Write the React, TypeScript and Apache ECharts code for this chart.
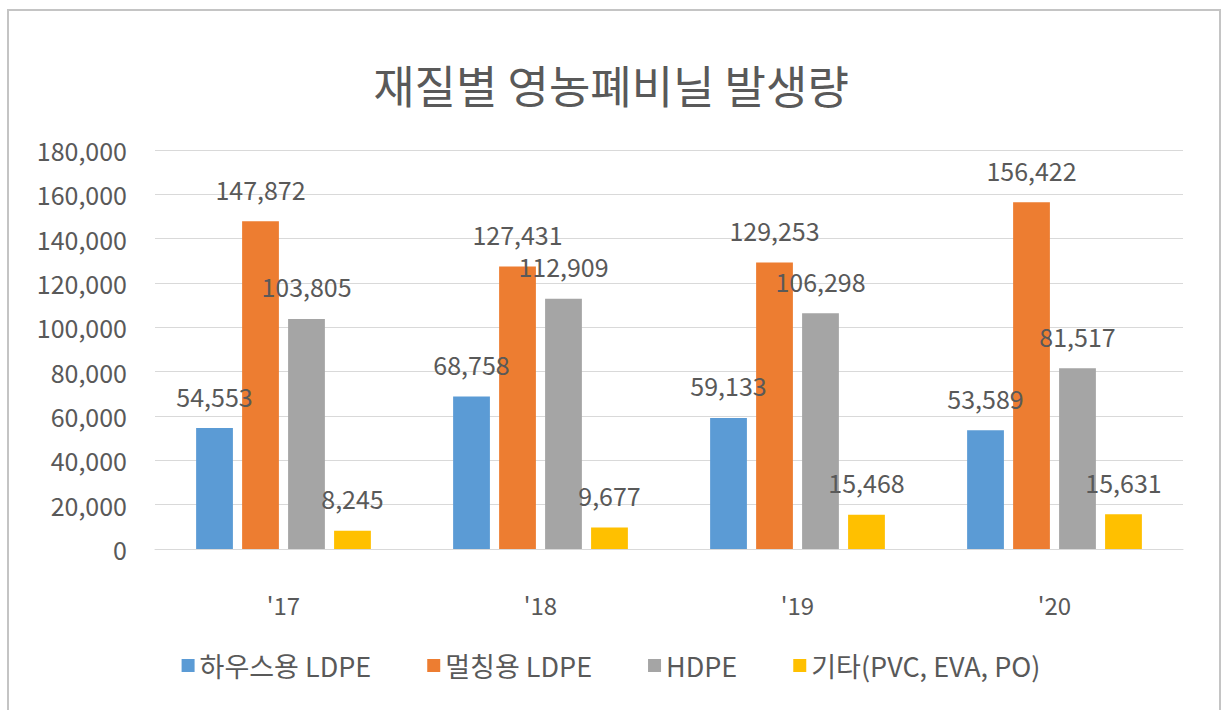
import React, { useEffect, useRef } from "react";
import * as echarts from "echarts";

const categories = ["'17", "'18", "'19", "'20"];
const seriesNames = ["하우스용 LDPE", "멀칭용 LDPE", "HDPE", "기타(PVC, EVA, PO)"];
const houseLDPE = [54553, 68758, 59133, 53589];
const mulchLDPE = [147872, 127431, 129253, 156422];
const hdpe = [103805, 112909, 106298, 81517];
const others = [8245, 9677, 15468, 15631];
const yTicks = { min: 0, max: 180000, interval: 20000 };

const colors = ["#5B9BD5", "#ED7D31", "#A5A5A5", "#FFC000"];
const FONT = "'Noto Sans CJK KR', 'Noto Sans', sans-serif";
const TXT = "#595959";

const fmt = (v: number) => v.toLocaleString("en-US");

export default function App() {
  const ref = useRef<HTMLDivElement>(null);
  useEffect(() => {
    document.body.style.margin = "0";
    const chart = echarts.init(ref.current!, null, { renderer: "svg" });
    const data = [houseLDPE, mulchLDPE, hdpe, others];
    chart.setOption({
      animation: false,
      backgroundColor: "#ffffff",
      textStyle: { fontFamily: FONT },
      graphic: [
        {
          type: "rect",
          shape: { x: 8, y: 10, width: 1212, height: 704 },
          style: { fill: "none", stroke: "#c4c4c4", lineWidth: 2 },
          silent: true,
        },
      ],
      title: {
        text: "재질별 영농폐비닐 발생량",
        left: "center",
        top: 57,
        textStyle: { fontFamily: FONT, fontSize: 45, fontWeight: "normal", color: TXT },
      },
      legend: {
        bottom: 26,
        left: "center",
        itemWidth: 13,
        itemHeight: 13,
        itemGap: 56,
        icon: "rect",
        textStyle: { fontFamily: FONT, fontSize: 27, color: TXT },
        data: seriesNames,
      },
      grid: { left: 155, right: 39, top: 150, bottom: 161, containLabel: false },
      xAxis: {
        type: "category",
        data: categories,
        axisLine: { show: true, lineStyle: { color: "#d9d9d9" } },
        axisTick: { show: false },
        axisLabel: { margin: 43, fontFamily: FONT, fontSize: 24, color: TXT },
      },
      yAxis: {
        type: "value",
        min: yTicks.min,
        max: yTicks.max,
        interval: yTicks.interval,
        axisLine: { show: false },
        axisTick: { show: false },
        splitLine: { lineStyle: { color: "#d9d9d9", width: 1 } },
        axisLabel: {
          margin: 28,
          fontFamily: FONT,
          fontSize: 25,
          color: TXT,
          formatter: (v: number) => fmt(v),
        },
      },
      series: seriesNames.map((name, i) => ({
        name,
        type: "bar",
        data: data[i],
        barGap: "25%",
        barCategoryGap: "32%",
        itemStyle: { color: colors[i] },
        label: {
          show: true,
          position: "top",
          distance: 20,
          fontFamily: FONT,
          fontSize: 25,
          color: TXT,
          formatter: (p: any) => fmt(p.value),
        },
      })),
    });
    return () => chart.dispose();
  }, []);
  return <div ref={ref} style={{ width: 1222, height: 710 }} />;
}
